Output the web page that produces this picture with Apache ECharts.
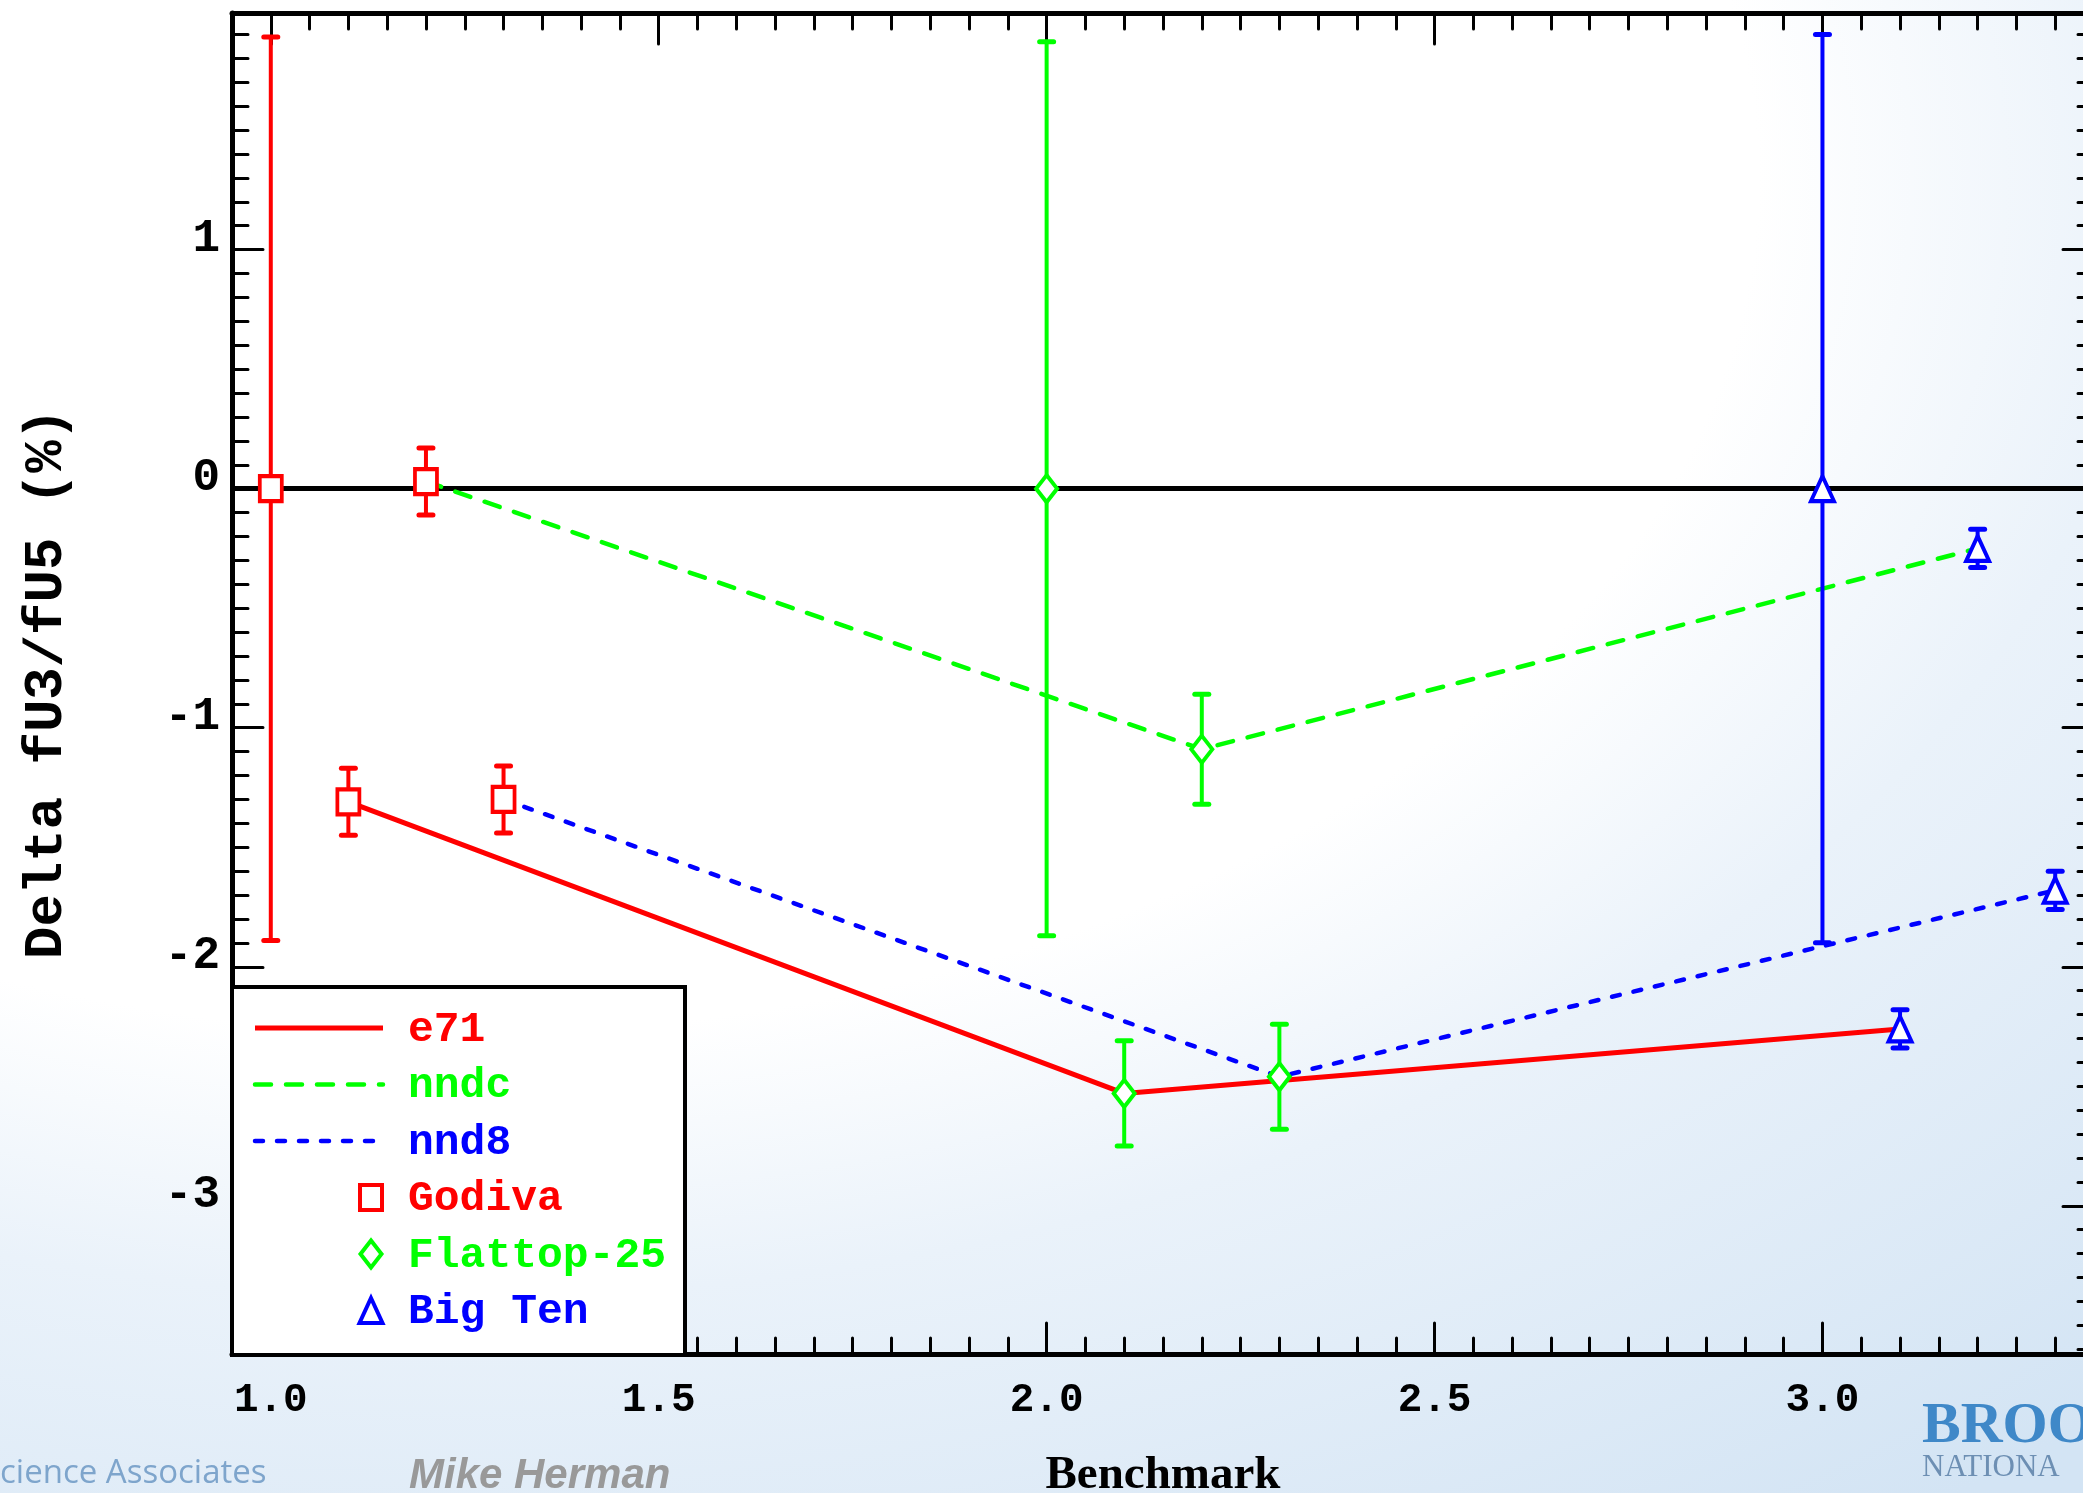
<!DOCTYPE html>
<html>
<head>
<meta charset="utf-8">
<script src="https://cdn.jsdelivr.net/npm/echarts@6/dist/echarts.min.js"></script>
<style>
html, body { margin: 0; padding: 0; overflow: hidden; }
#chart {
  width: 2083px; height: 1493px;
  background:
    radial-gradient(ellipse 120% 110% at 22% 12%, #ffffff 0%, #ffffff 52%, #eaf2fa 68%, #d3e4f4 100%);
}
</style>
</head>
<body>
<div id="chart"></div>
<script>
// ---------------- data ----------------
const GODIVA_X   = [1.0, 1.1, 1.2, 1.3];
const GODIVA_Y   = [0.0, -1.31, 0.03, -1.30];
const GODIVA_ERR = [1.89, 0.14, 0.14, 0.14];

const FLATTOP_X   = [2.0, 2.1, 2.2, 2.3];
const FLATTOP_Y   = [0.0, -2.53, -1.09, -2.46];
const FLATTOP_ERR = [1.87, 0.22, 0.23, 0.22];

const BIGTEN_X   = [3.0, 3.1, 3.2, 3.3];
const BIGTEN_Y   = [0.0, -2.26, -0.25, -1.68];
const BIGTEN_ERR = [1.90, 0.08, 0.08, 0.08];

const LIBRARY_NAMES   = ['e71', 'nndc', 'nnd8'];
const BENCHMARK_NAMES = ['Godiva', 'Flattop-25', 'Big Ten'];

const X_TICKS  = [1.0, 1.5, 2.0, 2.5, 3.0];
const X_LABELS = ['1.0', '1.5', '2.0', '2.5', '3.0'];
const Y_TICKS  = [-3, -2, -1, 0, 1];
const Y_LABELS = ['-3', '-2', '-1', '0', '1'];

const X_TITLE = 'Benchmark';
const Y_TITLE = 'Delta fU3/fU5 (%)';
const FOOTER_LEFT = 'cience Associates';
const FOOTER_AUTHOR = 'Mike Herman';
const LOGO_TOP = 'BROO';
const LOGO_BOTTOM = 'NATIONA';

// ---------------- styling ----------------
const X_MIN = 0.95, X_MAX = 3.35, Y_MIN = -3.62, Y_MAX = 1.99;
const RED = '#ff0000', GREEN = '#00ff00', BLUE = '#0000ff';
const MONO = '"Liberation Mono", "DejaVu Sans Mono", monospace';

const X_MINOR = [];
for (let i = 0; i <= 46; i++) X_MINOR.push(+(1.0 + i * 0.05).toFixed(2));
const Y_MINOR = [];
for (let i = -36; i <= 19; i++) Y_MINOR.push(+(i * 0.1).toFixed(1));

function lookup(ticks, labels, v) {
  const i = ticks.findIndex(t => Math.abs(t - v) < 1e-6);
  return i >= 0 ? labels[i] : '';
}

function xAxisDef(pos, major, labels) {
  return {
    type: 'value', min: X_MIN, max: X_MAX, position: pos,
    splitLine: { show: false },
    axisLine: { show: major, onZero: false, lineStyle: { color: '#000', width: 5 } },
    axisTick: { show: true, inside: true, customValues: major ? X_TICKS : X_MINOR,
                length: major ? 31 : 16, lineStyle: { color: '#000', width: 3, cap: 'round' } },
    axisLabel: { show: labels, customValues: X_TICKS, margin: 26,
                 formatter: v => lookup(X_TICKS, X_LABELS, v),
                 color: '#000', fontFamily: MONO, fontWeight: 'bold', fontSize: 41 },
    name: labels ? X_TITLE : '',
    nameLocation: 'middle', nameGap: 98,
    nameTextStyle: { color: '#000', fontFamily: '"Liberation Serif", "DejaVu Serif", serif',
                     fontWeight: 'bold', fontSize: 47 }
  };
}
function yAxisDef(pos, major, labels) {
  return {
    type: 'value', min: Y_MIN, max: Y_MAX, position: pos,
    splitLine: { show: false },
    axisLine: { show: major, onZero: false, lineStyle: { color: '#000', width: 5 } },
    axisTick: { show: true, inside: true, customValues: major ? Y_TICKS : Y_MINOR,
                length: major ? 31 : 16, lineStyle: { color: '#000', width: 3, cap: 'round' } },
    axisLabel: { show: labels, customValues: Y_TICKS, margin: 12,
                 verticalAlign: 'bottom', lineHeight: 20,
                 formatter: v => lookup(Y_TICKS, Y_LABELS, v),
                 color: '#000', fontFamily: MONO, fontWeight: 'bold', fontSize: 46 },
    name: labels ? Y_TITLE : '',
    nameLocation: 'middle', nameGap: 158, nameRotate: 90,
    nameTextStyle: { color: '#000', fontFamily: MONO, fontWeight: 'bold', fontSize: 54 }
  };
}

// library curves: the k-th point of each benchmark
function libraryCurve(k) {
  return [[GODIVA_X[k], GODIVA_Y[k]], [FLATTOP_X[k], FLATTOP_Y[k]], [BIGTEN_X[k], BIGTEN_Y[k]]];
}
function triples(xs, ys, es) { return xs.map((x, i) => [x, ys[i], es[i]]); }

function errorBarSeries(name, data, color) {
  return {
    name: name + ' error', type: 'custom', z: 4,
    data: data, encode: { x: 0, y: 1 },
    renderItem: function (params, api) {
      const x = api.value(0), y = api.value(1), e = api.value(2);
      const top = api.coord([x, y + e]);
      const bot = api.coord([x, y - e]);
      const cw = 7;
      return {
        type: 'group',
        children: [
          { type: 'line', shape: { x1: top[0], y1: top[1], x2: bot[0], y2: bot[1] },
            style: { stroke: color, lineWidth: 4 } },
          { type: 'line', shape: { x1: top[0] - cw, y1: top[1], x2: top[0] + cw, y2: top[1] },
            style: { stroke: color, lineWidth: 5, lineCap: 'round' } },
          { type: 'line', shape: { x1: bot[0] - cw, y1: bot[1], x2: bot[0] + cw, y2: bot[1] },
            style: { stroke: color, lineWidth: 5, lineCap: 'round' } }
        ]
      };
    }
  };
}
function markerSeries(name, data, color, symbol, size) {
  return {
    name: name, type: 'scatter', z: 6,
    data: data.map(d => [d[0], d[1]]),
    symbol: symbol, symbolSize: size,
    itemStyle: { color: '#ffffff', borderColor: color, borderWidth: 4, opacity: 1 },
    emphasis: { disabled: true }
  };
}

const LIB_STYLE = [
  { color: RED,   type: 'solid',   cap: 'butt',  width: 5 },
  { color: GREEN, type: [16, 15],  cap: 'round', width: 4.5 },
  { color: BLUE,  type: [8, 14],   cap: 'round', width: 4.5 }
];

const series = [];
LIBRARY_NAMES.forEach((n, i) => {
  const s = {
    name: n, type: 'line', z: 3,
    data: libraryCurve(i + 1),
    showSymbol: false, symbol: 'none',
    lineStyle: { color: LIB_STYLE[i].color, width: LIB_STYLE[i].width,
                 type: LIB_STYLE[i].type, cap: LIB_STYLE[i].cap }
  };
  if (i === 0) {
    s.markLine = { silent: true, symbol: 'none', label: { show: false }, z: 2,
      lineStyle: { color: '#000', type: 'solid', width: 5 },
      emphasis: { disabled: true },
      data: [{ yAxis: 0 }] };
  }
  series.push(s);
});

const BENCH = [
  { name: BENCHMARK_NAMES[0], data: triples(GODIVA_X, GODIVA_Y, GODIVA_ERR),   color: RED,   symbol: 'rect',     size: [22, 25] },
  { name: BENCHMARK_NAMES[1], data: triples(FLATTOP_X, FLATTOP_Y, FLATTOP_ERR), color: GREEN, symbol: 'diamond',  size: [21, 27] },
  { name: BENCHMARK_NAMES[2], data: triples(BIGTEN_X, BIGTEN_Y, BIGTEN_ERR),   color: BLUE,  symbol: 'triangle', size: [23, 25] }
];
BENCH.forEach(b => series.push(errorBarSeries(b.name, b.data, b.color)));
BENCH.forEach(b => series.push(markerSeries(b.name, b.data, b.color, b.symbol, b.size)));

// ---------------- legend box (drawn as graphics) ----------------
const LEG = { x: 232, y: 987, w: 453, h: 368, lineX1: 255, lineX2: 383, symX: 371, textX: 408, y0: 1028, step: 56.5 };
const legendEls = [{
  type: 'rect', z: 20,
  shape: { x: LEG.x, y: LEG.y, width: LEG.w, height: LEG.h },
  style: { fill: '#ffffff', stroke: '#000', lineWidth: 4 }
}];
LIBRARY_NAMES.forEach((n, i) => {
  const y = LEG.y0 + i * LEG.step;
  const st = LIB_STYLE[i];
  legendEls.push({
    type: 'line', z: 21,
    shape: { x1: LEG.lineX1, y1: y, x2: LEG.lineX2, y2: y },
    style: { stroke: st.color, lineWidth: st.width, lineDash: st.type === 'solid' ? null : st.type,
             lineCap: st.cap }
  });
  legendEls.push({
    type: 'text', z: 21, x: LEG.textX, y: y + 2,
    style: { text: n, fill: st.color, fontFamily: MONO, fontWeight: 'bold', fontSize: 43,
             align: 'left', verticalAlign: 'middle' }
  });
});
BENCH.forEach((b, j) => {
  const y = LEG.y0 + (j + 3) * LEG.step;
  const cx = LEG.symX, w = b.size[0], h = b.size[1];
  let el;
  if (b.symbol === 'rect') {
    el = { type: 'rect', shape: { x: cx - w / 2, y: y - h / 2, width: w, height: h } };
  } else if (b.symbol === 'diamond') {
    el = { type: 'polygon', shape: { points: [[cx, y - h / 2], [cx + w / 2, y], [cx, y + h / 2], [cx - w / 2, y]] } };
  } else {
    el = { type: 'polygon', shape: { points: [[cx, y - h / 2], [cx + w / 2, y + h / 2], [cx - w / 2, y + h / 2]] } };
  }
  el.z = 21;
  el.style = { fill: '#ffffff', stroke: b.color, lineWidth: 4 };
  legendEls.push(el);
  legendEls.push({
    type: 'text', z: 21, x: LEG.textX, y: y + 2,
    style: { text: b.name, fill: b.color, fontFamily: MONO, fontWeight: 'bold', fontSize: 43,
             align: 'left', verticalAlign: 'middle' }
  });
});

// slide decorations
const decoEls = [
  { type: 'text', z: 1, x: 0, y: 1474,
    style: { text: FOOTER_LEFT, fill: '#7ea5cc', fontFamily: '"Open Sans", "Noto Sans", sans-serif',
             fontSize: 33, align: 'left', verticalAlign: 'middle' } },
  { type: 'text', z: 1, x: 409, y: 1476,
    style: { text: FOOTER_AUTHOR, fill: '#999999', fontFamily: '"Liberation Sans", Arial, sans-serif',
             fontWeight: 'bold', fontStyle: 'italic', fontSize: 42, align: 'left', verticalAlign: 'middle' } },
  { type: 'text', z: 1, x: 1922, y: 1427,
    style: { text: LOGO_TOP, fill: '#3f88c8', fontFamily: '"Liberation Serif", serif',
             fontWeight: 'bold', fontSize: 58, align: 'left', verticalAlign: 'middle' } },
  { type: 'text', z: 1, x: 1922, y: 1468,
    style: { text: LOGO_BOTTOM, fill: '#6d8fb3', fontFamily: '"Liberation Serif", serif',
             fontSize: 31, align: 'left', verticalAlign: 'middle' } }
];

const chart = echarts.init(document.getElementById('chart'), null, { renderer: 'canvas' });
chart.setOption({
  backgroundColor: 'transparent',
  animation: false,
  grid: { left: 232, top: 13, right: -11, bottom: 139, containLabel: false, outerBoundsMode: 'none' },
  xAxis: [
    xAxisDef('bottom', true, true),
    xAxisDef('bottom', false, false),
    xAxisDef('top', true, false),
    xAxisDef('top', false, false)
  ],
  yAxis: [
    yAxisDef('left', true, true),
    yAxisDef('left', false, false),
    yAxisDef('right', true, false),
    yAxisDef('right', false, false)
  ],
  legend: { show: false },
  tooltip: { show: false },
  series: series,
  graphic: { elements: legendEls.concat(decoEls) }
});
</script>
</body>
</html>
